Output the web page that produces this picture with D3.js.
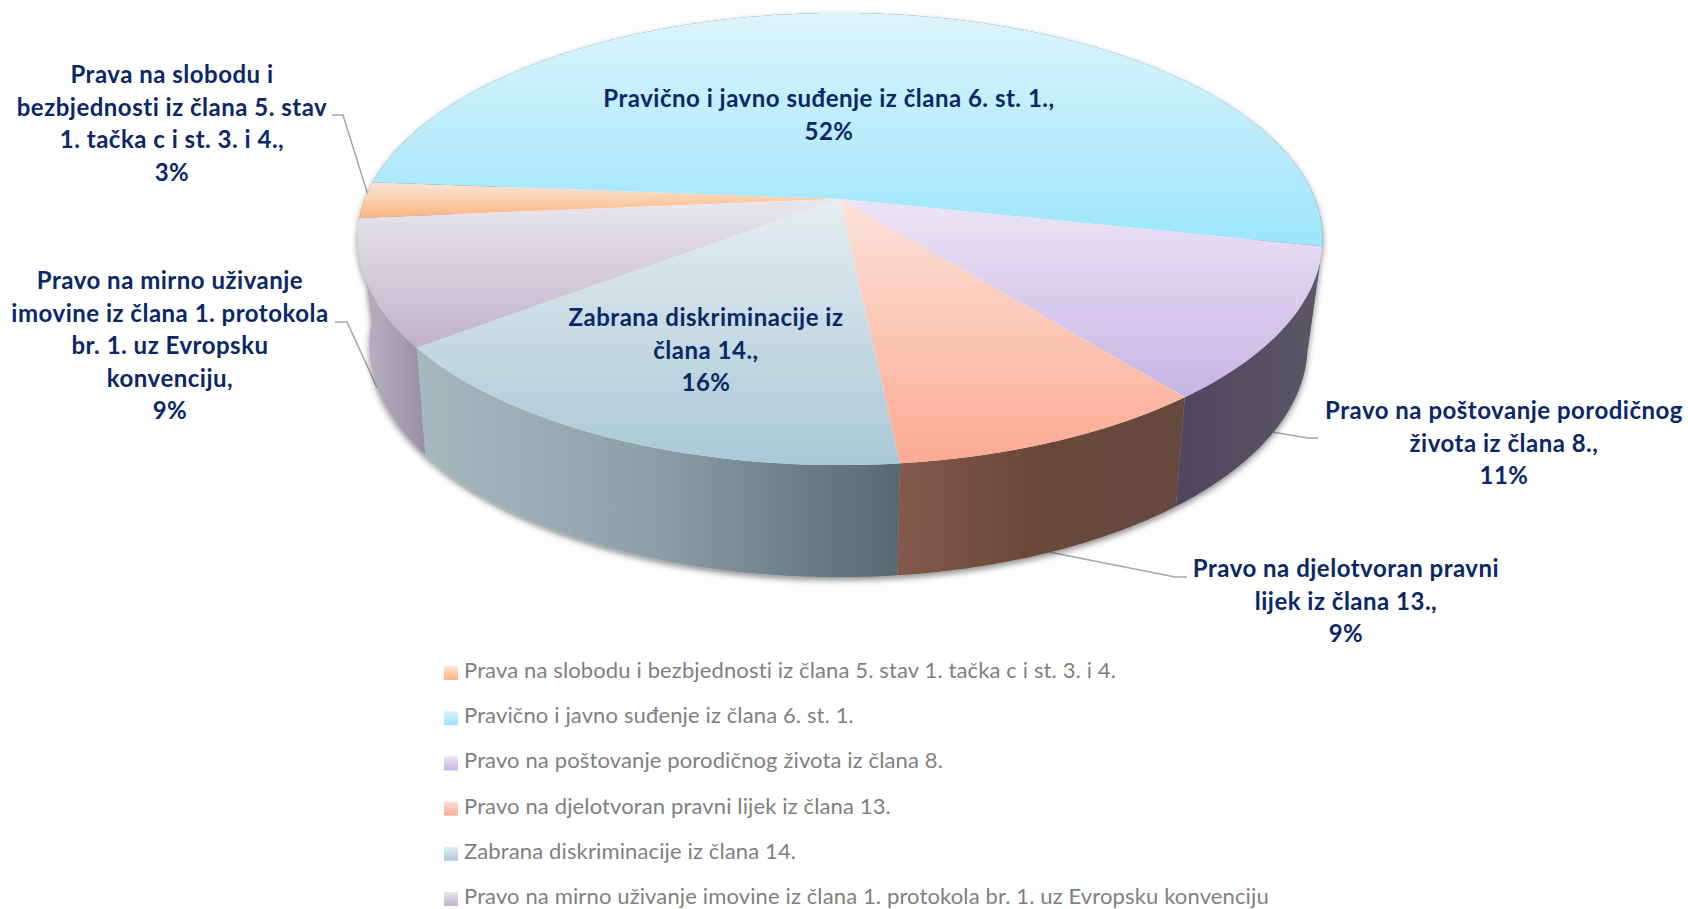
<!DOCTYPE html>
<html>
<head>
<meta charset="utf-8">
<script src="https://cdn.jsdelivr.net/npm/d3@7"></script>
<style>
html, body { margin: 0; padding: 0; background: #fff; }
svg { display: block; }
text { font-family: Lato, "Open Sans", sans-serif; }
</style>
</head>
<body>
<svg id="chart" width="1688" height="909"></svg>
<script>
// chart data
var categories = [
    "Prava na slobodu i bezbjednosti iz člana 5. stav 1. tačka c i st. 3. i 4.",
    "Pravično i javno suđenje iz člana 6. st. 1.",
    "Pravo na poštovanje porodičnog života iz člana 8.",
    "Pravo na djelotvoran pravni lijek iz člana 13.",
    "Zabrana diskriminacije iz člana 14.",
    "Pravo na mirno uživanje imovine iz člana 1. protokola br. 1. uz Evropsku konvenciju"
];
var values = [2.6, 52.1, 10.9, 9.1, 16.3, 9.0];
var labelLines = [
    ["Prava na slobodu i", "bezbjednosti iz člana 5. stav", "1. tačka c i st. 3. i 4.,"],
    ["Pravično i javno suđenje iz člana 6. st. 1.,"],
    ["Pravo na poštovanje porodičnog", "života iz člana 8.,"],
    ["Pravo na djelotvoran pravni", "lijek iz člana 13.,"],
    ["Zabrana diskriminacije iz", "člana 14.,"],
    ["Pravo na mirno uživanje", "imovine iz člana 1. protokola", "br. 1. uz Evropsku", "konvenciju,"]
];

// colours
var faceTop = ["#f9e6d8", "#dcf4fc", "#ece5f6", "#fbe2d9", "#e5eef0", "#e9e7ed"];
var faceBottom = ["#fdb57f", "#9ce5fc", "#c6b4e3", "#fcaa93", "#a9c8d6", "#bfb2c9"];
var wallStops = [
    ["#8d7a66", "#8d7a66"],
    ["#5f7480", "#5f7480"],
    ["#4f4660", "#5c5764"],
    ["#83594b", "#684839", "#664a3e"],
    ["#a5babf", "#8a9fa8", "#566870"],
    ["#bab6c6", "#9a8ea3"]
];
var labelColor = "#0a2767";
var legendColor = "#7f7f7f";
var leaderColor = "#a6a6a6";

// layout
var topRim = { cx: 840, cy: 199, R: 475, H: 219, k: 0.177 };
var lowRim = { cx: 838.5, cy: 302, R: 461, H: 224, k: 0.186 };
var startAngle = 265.1 * Math.PI / 180;
var labelPos = [[172, 83], [829, 107], [1504, 419], [1346, 577], [706, 326], [170, 289]];
var labelPitch = 32.5;
var leaderElbows = [[[332, 115], [343, 115]], null, [[1318, 438], [1308, 438]],
    [[1187, 577], [1175, 577]], null, [[335, 322], [347, 322]]];

var svg = d3.select("#chart");
var defs = svg.append("defs");

// perspective view of a flat disc, t is the pie angle
function project(rim, t, r) {
    var u = r * Math.sin(t), v = -r * Math.cos(t);
    var w = 1 - rim.k * v;
    return [rim.cx + rim.R * u / w, rim.cy + rim.H * v / w];
}

function rimPoints(rim, a0, a1) {
    var n = Math.max(2, Math.ceil((a1 - a0) / 0.01));
    return d3.range(n + 1).map(function (i) {
        return project(rim, a0 + (a1 - a0) * i / n, 1);
    });
}

var slices = d3.pie().sort(null)
    .startAngle(startAngle)
    .endAngle(startAngle + 2 * Math.PI)(values);

var line = d3.line();

slices.forEach(function (d, i) {
    var face = defs.append("linearGradient").attr("id", "face" + i)
        .attr("x1", 0).attr("y1", 0).attr("x2", 0).attr("y2", 1);
    face.append("stop").attr("offset", 0).attr("stop-color", faceTop[i]);
    face.append("stop").attr("offset", 1).attr("stop-color", faceBottom[i]);

    var wall = defs.append("linearGradient").attr("id", "wall" + i)
        .attr("x1", 0).attr("y1", 0).attr("x2", 1).attr("y2", 0);
    wallStops[i].forEach(function (c, j) {
        wall.append("stop").attr("offset", j / (wallStops[i].length - 1)).attr("stop-color", c);
    });
});

var shadow = defs.append("filter").attr("id", "shadow")
    .attr("filterUnits", "userSpaceOnUse")
    .attr("x", 300).attr("y", 0).attr("width", 1100).attr("height", 640);
shadow.append("feDropShadow")
    .attr("dx", 0).attr("dy", 3).attr("stdDeviation", 3)
    .attr("flood-color", "#000").attr("flood-opacity", 0.45);

// leaders go under the pie, they end on the rim
svg.append("g").selectAll("path")
    .data(slices.filter(function (d, i) { return leaderElbows[i]; }))
    .enter().append("path")
    .attr("fill", "none")
    .attr("stroke", leaderColor)
    .attr("stroke-width", 1.5)
    .attr("d", function (d) {
        var mid = (d.startAngle + d.endAngle) / 2;
        var end = d.index === 0 ? project(topRim, mid, 0.99) : project(lowRim, mid, 1);
        return line(leaderElbows[d.index].concat([end]));
    });

svg.append("g").attr("filter", "url(#shadow)")
    .selectAll("path").data(slices).enter().append("path")
    .attr("fill", function (d) { return "url(#wall" + d.index + ")"; })
    .attr("d", function (d) {
        var upper = rimPoints(topRim, d.startAngle, d.endAngle);
        var lower = rimPoints(lowRim, d.startAngle, d.endAngle).reverse();
        return line(upper.concat(lower)) + "Z";
    });

svg.append("g").selectAll("path").data(slices).enter().append("path")
    .attr("fill", function (d) { return "url(#face" + d.index + ")"; })
    .attr("d", function (d) {
        var centre = project(topRim, 0, 0);
        return line([centre].concat(rimPoints(topRim, d.startAngle, d.endAngle))) + "Z";
    });

// data labels
var labels = svg.append("g").selectAll("text").data(slices).enter().append("text")
    .attr("text-anchor", "middle")
    .attr("fill", labelColor)
    .attr("font-size", 24)
    .attr("letter-spacing", 0.5)
    .attr("font-weight", 700);

labels.selectAll("tspan")
    .data(function (d) {
        return labelLines[d.index].concat([Math.round(d.value) + "%"]).map(function (s, j) {
            return { text: s, line: j, index: d.index };
        });
    })
    .enter().append("tspan")
    .attr("x", function (d) { return labelPos[d.index][0]; })
    .attr("y", function (d) { return labelPos[d.index][1] + d.line * labelPitch; })
    .text(function (d) { return d.text; });

// legend
var legendY = d3.scalePoint().domain(categories).range([671, 897]);
var legend = svg.append("g").selectAll("g").data(categories).enter().append("g")
    .attr("transform", function (d) { return "translate(444," + legendY(d) + ")"; });

legend.append("rect")
    .attr("y", -5).attr("width", 14).attr("height", 14)
    .attr("fill", function (d, i) { return "url(#face" + i + ")"; });

legend.append("text")
    .attr("x", 20).attr("y", 7)
    .attr("fill", legendColor)
    .attr("font-size", 22)
    .attr("letter-spacing", 0.13)
    .text(function (d) { return d; });
</script>
</body>
</html>
